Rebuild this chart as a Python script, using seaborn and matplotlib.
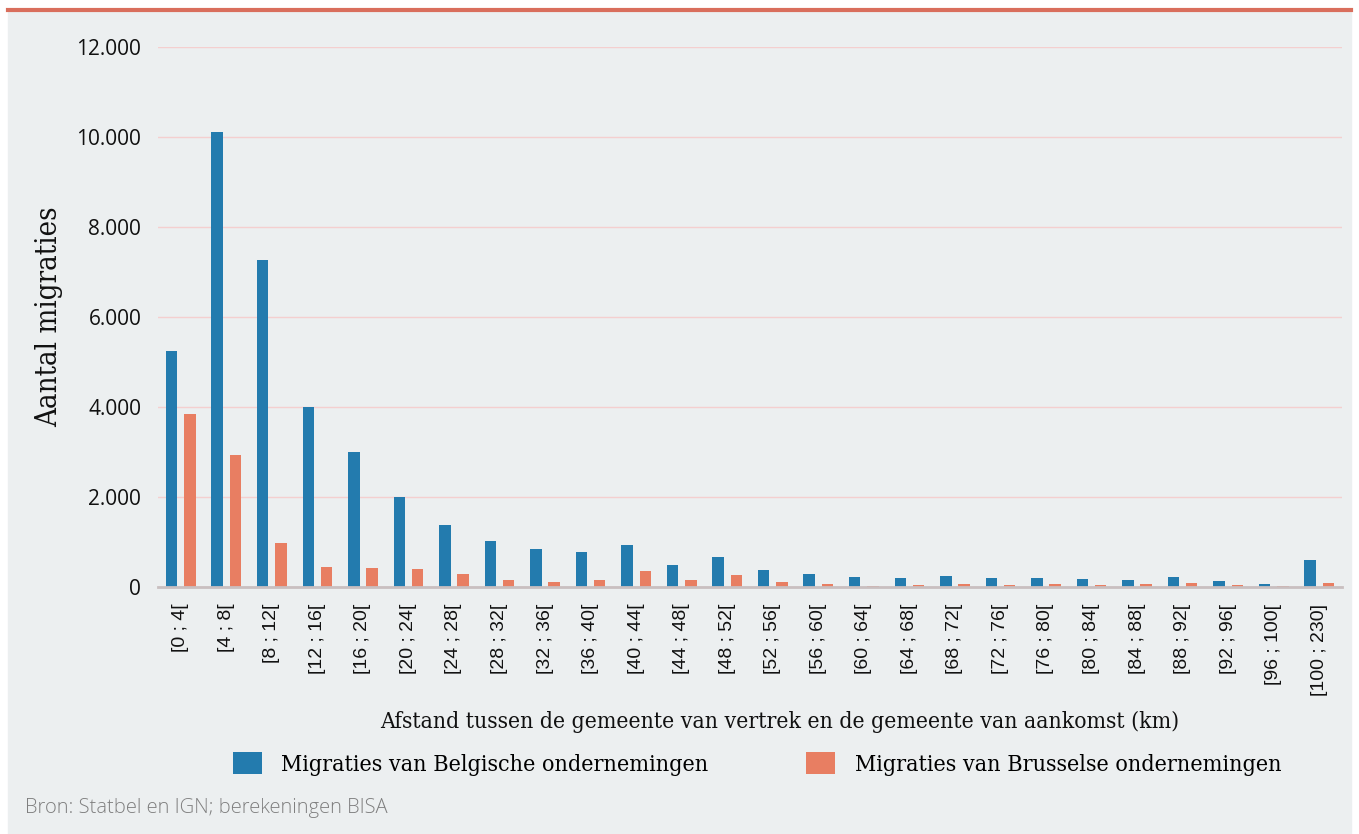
"""Migraties van ondernemingen naar afstand (BISA-grafiek)."""

import matplotlib

matplotlib.use("Agg")
import matplotlib.pyplot as plt
import matplotlib.ticker as mticker
import pandas as pd
import seaborn as sns
from matplotlib.lines import Line2D
from matplotlib.patches import Rectangle

# --- data ---
categories = [
    "[0 ; 4[", "[4 ; 8[", "[8 ; 12[", "[12 ; 16[", "[16 ; 20[", "[20 ; 24[",
    "[24 ; 28[", "[28 ; 32[", "[32 ; 36[", "[36 ; 40[", "[40 ; 44[", "[44 ; 48[",
    "[48 ; 52[", "[52 ; 56[", "[56 ; 60[", "[60 ; 64[", "[64 ; 68[", "[68 ; 72[",
    "[72 ; 76[", "[76 ; 80[", "[80 ; 84[", "[84 ; 88[", "[88 ; 92[", "[92 ; 96[",
    "[96 ; 100[", "[100 ; 230]",
]
belgische = [
    5250, 10120, 7270, 4000, 3000, 2000, 1380, 1020, 845, 780, 935, 490,
    670, 380, 290, 225, 200, 245, 200, 200, 180, 155, 225, 135, 70, 600,
]
brusselse = [
    3850, 2935, 980, 445, 420, 400, 290, 155, 110, 155, 355, 155,
    265, 110, 65, 25, 45, 65, 45, 65, 45, 65, 90, 45, 25, 90,
]
series_names = [
    "Migraties van Belgische ondernemingen",
    "Migraties van Brusselse ondernemingen",
]
y_ticks = [0, 2000, 4000, 6000, 8000, 10000, 12000]

blue = "#237BAE"
orange = "#E87E62"
panel = "#ECEFF0"
serif = {"family": "DejaVu Serif", "stretch": "condensed"}

df = pd.DataFrame({
    "categorie": categories * 2,
    "aantal": belgische + brusselse,
    "reeks": [series_names[0]] * len(categories) + [series_names[1]] * len(categories),
})

fig = plt.figure(figsize=(13.59, 8.34), dpi=100, facecolor="white")
fig.patches.append(Rectangle((8 / 1359, 0), 1343 / 1359, 1 - 12 / 834,
                             transform=fig.transFigure, color=panel, zorder=-10))
fig.lines.append(Line2D([8 / 1359, 1351 / 1359], [1 - 10 / 834] * 2,
                        transform=fig.transFigure, color="#D96E5C", lw=3))

ax = fig.add_axes([158 / 1359, 1 - 587 / 834, 1184 / 1359, 540 / 834])
ax.set_facecolor(panel)

sns.barplot(data=df, x="categorie", y="aantal", hue="reeks", order=categories,
            hue_order=series_names, palette=[blue, orange], width=0.8, gap=0.37,
            saturation=1, ax=ax, zorder=3)

ax.set_xlim(-0.5, len(categories) - 0.5)
ax.set_ylim(0, 12000)
ax.set_yticks(y_ticks)
ax.yaxis.set_major_formatter(
    mticker.FuncFormatter(lambda v, _: f"{int(v):,}".replace(",", ".")))
ax.grid(axis="y", color="#F4CFCF", lw=1, zorder=0)
ax.grid(axis="x", visible=False)
for side in ["top", "right", "left"]:
    ax.spines[side].set_visible(False)
ax.spines["bottom"].set_color("#C9BFC0")
ax.spines["bottom"].set_linewidth(2)
ax.spines["bottom"].set_zorder(4)

ax.tick_params(axis="y", length=0, pad=12, labelsize=15, labelcolor="#111111")
ax.tick_params(axis="x", length=0, pad=12, labelsize=14, labelcolor="#111111",
               labelrotation=90)
for lab in ax.get_yticklabels():
    lab.set_family("Open Sans")
for lab in ax.get_xticklabels():
    lab.set_family("Liberation Sans")

ax.set_xlabel("")
ax.set_ylabel("Aantal migraties", fontsize=21, color="#111111", **serif)
ax.yaxis.set_label_coords(-0.080, 0.5)

fig.text(780 / 1359, 1 - 722 / 834,
         "Afstand tussen de gemeente van vertrek en de gemeente van aankomst (km)",
         ha="center", va="center", fontsize=16.4, color="#111111", **serif)

handles, labels = ax.get_legend_handles_labels()
ax.get_legend().remove()
fig.legend(handles, labels, loc="center", bbox_to_anchor=(757 / 1359, 1 - 764 / 834),
           ncol=2, frameon=False, handlelength=1.25, handleheight=1.05,
           handletextpad=0.85, columnspacing=4.2,
           prop={"family": "DejaVu Serif", "size": 16.7, "stretch": "condensed"})

fig.text(25 / 1359, 1 - 808 / 834, "Bron: Statbel en IGN; berekeningen BISA",
         ha="left", va="center", family="Open Sans", fontsize=14.5,
         color="#7F7F7F", fontweight="light")

fig.savefig("out.png", dpi=100, facecolor="white")
